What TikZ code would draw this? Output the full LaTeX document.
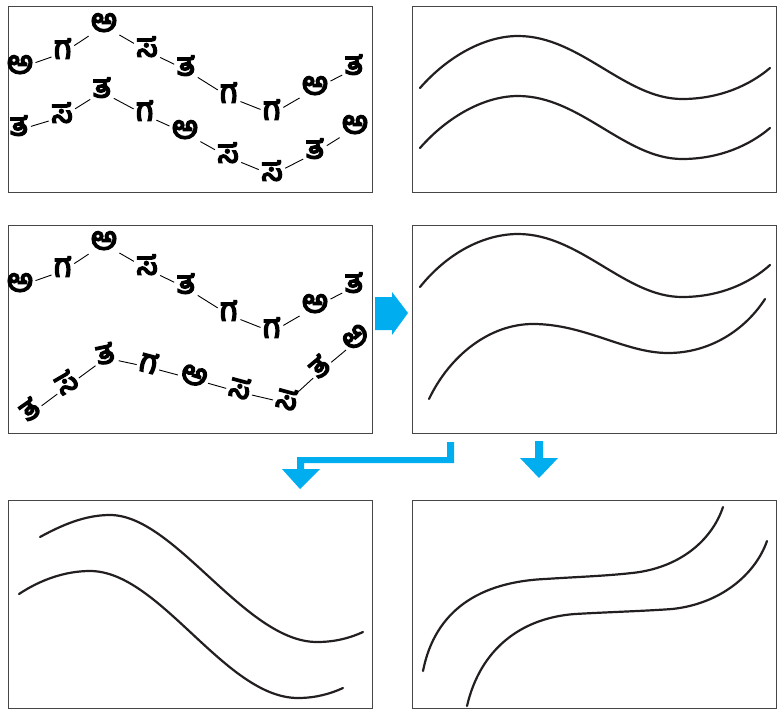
\documentclass[tikz,border=0pt]{standalone}
\usepackage{fontspec}
\newfontfamily\kn[Script=Kannada,FakeBold=5]{Hind Mysuru}
\definecolor{arrowcyan}{RGB}{0,174,239}
\definecolor{framegray}{RGB}{70,70,70}
\definecolor{inkblack}{RGB}{35,31,32}
\begin{document}
\begin{tikzpicture}[x=1pt,y=-1pt,
  panel/.style={draw=framegray,line width=1pt},
  ch/.style={font=\kn\fontsize{32}{32}\selectfont,inner sep=1pt,text height=14pt,text depth=3pt},
  link/.style={draw=black,line width=0.9pt,shorten >=1.5pt,shorten <=1.5pt},
  wave/.style={draw=inkblack,line width=2.2pt,line cap=round},
  bigarrow/.style={fill=arrowcyan,draw=none}]
\useasboundingbox (0,0) rectangle (779,715);
% panels
\draw[panel] (8,6) rectangle (372,192);
\draw[panel] (412,6) rectangle (776,192);
\draw[panel] (8,225) rectangle (372,433);
\draw[panel] (412,225) rectangle (776,433);
\draw[panel] (8,500) rectangle (372,708);
\draw[panel] (412,500) rectangle (776,708);
% panel 1 text
\node[ch] (a1) at (20,68) {ಅ};
\node[ch] (a2) at (63,53) {ಗ};
\node[ch] (a3) at (104,26) {ಅ};
\node[ch] (a4) at (147,51) {ಸ};
\node[ch] (a5) at (186,70) {ತ};
\node[ch] (a6) at (229,97) {ಗ};
\node[ch] (a7) at (272,114) {ಗ};
\node[ch] (a8) at (315,89) {ಅ};
\node[ch] (a9) at (354,69) {ತ};
\node[ch] (b1) at (19,130) {ತ};
\node[ch] (b2) at (62,117) {ಸ};
\node[ch] (b3) at (102,92) {ತ};
\node[ch] (b4) at (145,115) {ಗ};
\node[ch] (b5) at (185,133) {ಅ};
\node[ch] (b6) at (228,157) {ಸ};
\node[ch] (b7) at (272,175) {ಸ};
\node[ch] (b8) at (315,153) {ತ};
\node[ch] (b9) at (355,128) {ಅ};
\foreach \i/\j in {1/2,2/3,3/4,4/5,5/6,6/7,7/8,8/9}{
  \draw[link] (a\i) -- (a\j);
  \draw[link] (b\i) -- (b\j);
}
% panel 3 text
\node[ch] (d1) at (20,286) {ಅ};
\node[ch] (d2) at (63,271) {ಗ};
\node[ch] (d3) at (104,244) {ಅ};
\node[ch] (d4) at (147,269) {ಸ};
\node[ch] (d5) at (186,288) {ತ};
\node[ch] (d6) at (229,315) {ಗ};
\node[ch] (d7) at (272,332) {ಗ};
\node[ch] (d8) at (315,307) {ಅ};
\node[ch] (d9) at (354,287) {ತ};
\node[ch,rotate=35] (c1) at (32,413) {ತ};
\node[ch,rotate=30] (c2) at (68,386) {ಸ};
\node[ch,rotate=12] (c3) at (106,358) {ತ};
\node[ch,rotate=-15] (c4) at (148,367) {ಗ};
\node[ch,rotate=-18] (c5) at (193,379) {ಅ};
\node[ch,rotate=-15] (c6) at (239,392) {ಸ};
\node[ch,rotate=-15] (c7) at (286,403) {ಸ};
\node[ch,rotate=40] (c8) at (322,370) {ತ};
\node[ch,rotate=40] (c9) at (358,340) {ಅ};
\foreach \i/\j in {1/2,2/3,3/4,4/5,5/6,6/7,7/8,8/9}{
  \draw[link] (d\i) -- (d\j);
  \draw[link] (c\i) -- (c\j);
}
% panel 2 waves
\draw[wave] (420,88) .. controls (448,56) and (485,36) .. (518,36) .. controls (580,36) and (625,99) .. (682,99) .. controls (720,99) and (750,85) .. (770,68);
\draw[wave] (420,148) .. controls (448,116) and (485,96) .. (518,96) .. controls (580,96) and (625,159) .. (682,159) .. controls (720,159) and (750,145) .. (770,128);
% panel 4 waves
\draw[wave] (420,287) .. controls (448,252) and (485,234) .. (518,234) .. controls (580,234) and (625,297) .. (682,297) .. controls (720,297) and (750,283) .. (770,265);
\draw[wave] (429,399) .. controls (450,355) and (490,324) .. (533,324) .. controls (585,324) and (625,353) .. (668,353) .. controls (710,353) and (745,330) .. (765,299);
% panel 5 waves
\draw[wave] (40,537) .. controls (62,525) and (85,515) .. (110,515) .. controls (175,515) and (245,642) .. (317,642) .. controls (335,642) and (350,638) .. (363,632);
\draw[wave] (19,594) .. controls (40,580) and (65,571) .. (90,571) .. controls (160,571) and (225,698) .. (298,698) .. controls (315,698) and (330,694) .. (343,688);
% panel 6 waves
\draw[wave] (423,671) .. controls (435,610) and (480,582) .. (545,579) .. controls (575,577) and (605,576) .. (632,573) .. controls (680,568) and (712,540) .. (723,507);
\draw[wave] (467,706) .. controls (480,650) and (520,618) .. (575,614) .. controls (610,612) and (645,611) .. (672,609) .. controls (720,604) and (755,575) .. (767,541);
% arrows
\fill[bigarrow] (375,297) -- (392,297) -- (392,292) -- (408,313) -- (392,335) -- (392,330) -- (375,330) -- cycle;
\fill[bigarrow] (447,442) -- (454,442) -- (454,463) -- (304,463) -- (304,469) -- (320,469) -- (300,489) -- (282,469) -- (297,469) -- (297,457) -- (447,457) -- cycle;
\fill[bigarrow] (535,441) -- (543,441) -- (543,458) -- (558,458) -- (539,478) -- (520,458) -- (535,458) -- cycle;
\end{tikzpicture}
\end{document}
